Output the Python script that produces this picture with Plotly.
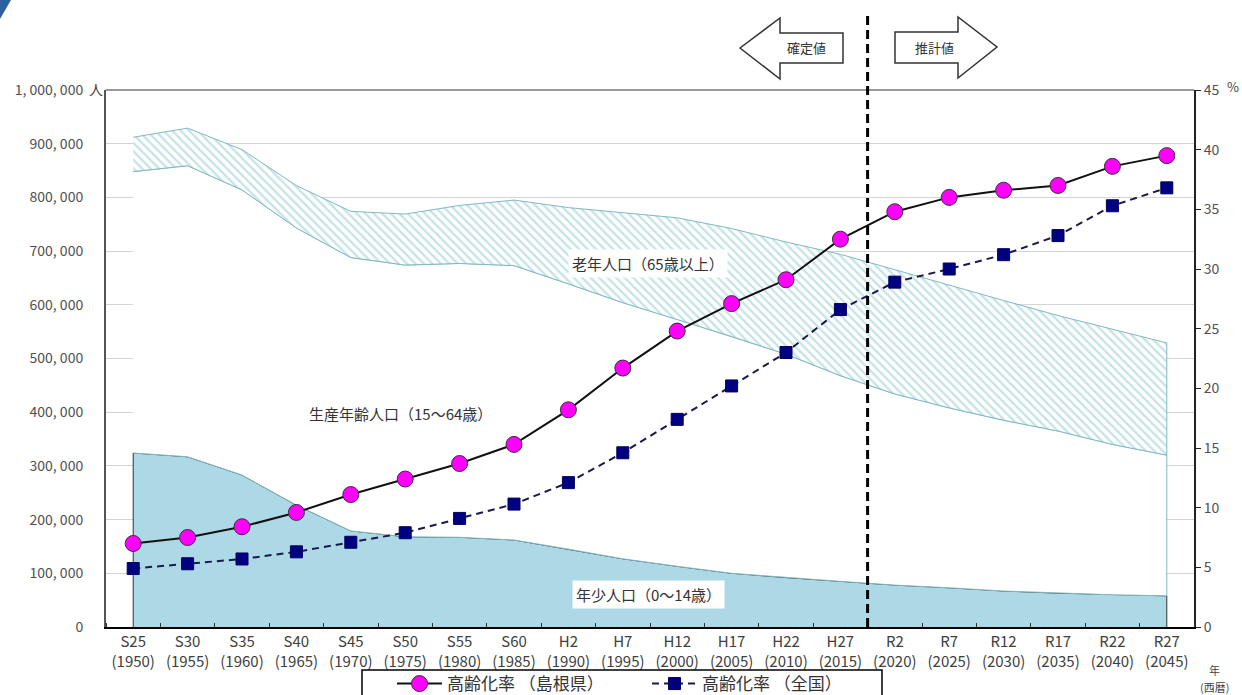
import plotly.graph_objects as go

# ---------------- data ----------------
era_labels = ["S25", "S30", "S35", "S40", "S45", "S50", "S55", "S60", "H2", "H7",
              "H12", "H17", "H22", "H27", "R2", "R7", "R12", "R17", "R22", "R27"]
years = [1950, 1955, 1960, 1965, 1970, 1975, 1980, 1985, 1990, 1995,
         2000, 2005, 2010, 2015, 2020, 2025, 2030, 2035, 2040, 2045]

# population (persons)
young_pop = [324000, 317000, 283000, 227000, 179000, 168000, 167000, 162000, 145000, 127000,
             113000, 100000, 92000, 85000, 78000, 73000, 67000, 63000, 60000, 58000]
working_pop = [524000, 542000, 531000, 516000, 509000, 506000, 510000, 511000, 494000, 477000,
               460000, 441000, 416000, 383000, 356000, 335000, 318000, 302000, 280000, 262000]
elderly_pop = [64000, 70000, 75000, 79000, 86000, 95000, 108000, 122000, 142000, 167000,
               189000, 201000, 209000, 226000, 231000, 229000, 223000, 215000, 214000, 209000]

# aging rate (%)
rate_shimane = [7.0, 7.5, 8.4, 9.6, 11.1, 12.4, 13.7, 15.3, 18.2, 21.7,
                24.8, 27.1, 29.1, 32.5, 34.8, 36.0, 36.6, 37.0, 38.6, 39.5]
rate_japan = [4.9, 5.3, 5.7, 6.3, 7.1, 7.9, 9.1, 10.3, 12.1, 14.6,
              17.4, 20.2, 23.0, 26.6, 28.9, 30.0, 31.2, 32.8, 35.3, 36.8]

left_ticks = [0, 100000, 200000, 300000, 400000, 500000, 600000, 700000, 800000, 900000, 1000000]
left_tick_text = ["0", "100, 000", "200, 000", "300, 000", "400, 000", "500, 000",
                  "600, 000", "700, 000", "800, 000", "900, 000", "1, 000, 000"]
right_ticks = [0, 5, 10, 15, 20, 25, 30, 35, 40, 45]

# ---------------- derived ----------------
n = len(era_labels)
xs = list(range(n))
cum1 = young_pop
cum2 = [a + b for a, b in zip(young_pop, working_pop)]
cum3 = [a + b for a, b in zip(cum2, elderly_pop)]
tick_text = [f"{e}<br>({y})" for e, y in zip(era_labels, years)]

# layout geometry (pixels)
W, H = 1242, 695
L, R, T, B = 106, 48, 90, 68
PW, PH = W - L - R, H - T - B


def px(x):
    return (x - L) / PW


def py(y):
    return (H - B - y) / PH


JP = "Noto Sans CJK JP"

fig = go.Figure()

# young population area (polygon incl. vertical edges)
fig.add_trace(go.Scatter(
    x=[xs[0]] + xs + [xs[-1]], y=[0] + cum1 + [0],
    fill="toself", fillcolor="#add8e6", mode="lines",
    line=dict(color="#333333", width=1), showlegend=False, hoverinfo="skip"))

# working-age population (white)
fig.add_trace(go.Scatter(
    x=xs + xs[::-1], y=cum2 + cum1[::-1],
    fill="toself", fillcolor="white", mode="lines",
    line=dict(color="#7fb9c2", width=1), showlegend=False, hoverinfo="skip"))

# elderly population (hatched)
fig.add_trace(go.Scatter(
    x=xs + xs[::-1], y=cum3 + cum2[::-1],
    fill="toself", fillcolor="white", mode="lines",
    fillpattern=dict(shape="\\", fgcolor="#8cc8d0", bgcolor="white", size=6, solidity=0.38),
    line=dict(color="#7fb9c2", width=1), showlegend=False, hoverinfo="skip"))

# aging rate lines (right axis)
fig.add_trace(go.Scatter(
    x=xs, y=rate_shimane, yaxis="y2", name="高齢化率 （島根県）",
    mode="lines+markers",
    line=dict(color="#111111", width=2),
    marker=dict(symbol="circle", size=16, color="#ff00ff", line=dict(color="#333333", width=1))))
fig.add_trace(go.Scatter(
    x=xs, y=rate_japan, yaxis="y2", name="高齢化率 （全国）",
    mode="lines+markers",
    line=dict(color="#1a1a4a", width=2, dash="7px,5px"),
    marker=dict(symbol="square", size=12, color="#000080", line=dict(color="#000060", width=1))))

shapes = []
# top border of plot area
shapes.append(dict(type="line", xref="paper", yref="paper", x0=0, x1=1, y0=1, y1=1,
                   line=dict(color="#999999", width=2)))
# dashed separator between actual and projected values
shapes.append(dict(type="line", xref="x", yref="paper", x0=13.5, x1=13.5, y0=0, y1=py(12),
                   line=dict(color="black", width=3, dash="9px,5px")))


def path(points):
    return "M " + " L ".join(f"{px(a):.5f},{py(b):.5f}" for a, b in points) + " Z"


left_arrow = [(740, 48), (780, 18), (780, 33), (843, 33), (843, 63), (780, 63), (780, 79)]
right_arrow = [(895, 32), (958, 32), (958, 17), (997, 47), (958, 78), (958, 63), (895, 63)]
for pts in (left_arrow, right_arrow):
    shapes.append(dict(type="path", xref="paper", yref="paper", path=path(pts),
                       fillcolor="white", line=dict(color="#333333", width=1.5), layer="above"))
# decorative corner
shapes.append(dict(type="path", xref="paper", yref="paper",
                   path=path([(0, 0), (11, 0), (0, 19)]),
                   fillcolor="#2f5f9e", line=dict(width=0), layer="above"))
# legend frame (bottom edge runs off the page as in the reference)
shapes.append(dict(type="rect", xref="paper", yref="paper",
                   x0=px(362), x1=px(882), y0=py(670), y1=py(702),
                   fillcolor="white", line=dict(color="black", width=1.5), layer="above"))


def note(text, x, y, size=13, color="#333333", **kw):
    return dict(text=text, x=px(x), y=py(y), xref="paper", yref="paper", showarrow=False,
                xanchor="center", yanchor="middle",
                font=dict(family=JP, size=size, color=color), **kw)


annotations = [
    note("確定値", 806, 48, size=13),
    note("推計値", 934, 47, size=13),
    note("人", 96, 89, size=14, color="#444444"),
    note("%", 1233, 86, size=13, color="#444444"),
    note("年", 1214, 670, size=11, color="#444444"),
    note("(西暦)", 1214, 687, size=11, color="#444444"),
    note("老年人口（65歳以上）", 648, 263, size=15, bgcolor="white", borderpad=3),
    note("生産年齢人口（15〜64歳）", 400, 413, size=15),
    note("年少人口（0〜14歳）", 648, 594, size=15, bgcolor="white", borderpad=3),
]

fig.update_layout(
    width=W, height=H,
    margin=dict(l=L, r=R, t=T, b=B, autoexpand=False),
    paper_bgcolor="white", plot_bgcolor="white",
    font=dict(family=JP, color="#404040"),
    xaxis=dict(range=[-0.5, n - 0.5], tickvals=xs, ticktext=tick_text, ticks="",
               automargin=False,
               showgrid=False, zeroline=False, showline=True, linecolor="black", linewidth=2,
               tickfont=dict(size=15, color="#404040"),
               minor=dict(tickvals=[i + 0.5 for i in range(-1, n)], ticks="inside",
                          ticklen=4, tickcolor="#333333", showgrid=False)),
    yaxis=dict(range=[0, 1000000], tickvals=left_ticks, ticktext=left_tick_text,
               automargin=False,
               showgrid=True, gridcolor="#d4d4d4", gridwidth=1, zeroline=False,
               showline=True, linecolor="#555555", linewidth=2, ticks="",
               ticklabelstandoff=18, tickfont=dict(size=14, color="#505050")),
    yaxis2=dict(range=[0, 45], tickvals=right_ticks, overlaying="y", side="right",
                automargin=False,
                showgrid=False, zeroline=False, showline=True, linecolor="#222222", linewidth=2,
                ticks="outside", ticklen=5, tickcolor="#222222",
                tickfont=dict(size=14, color="#505050")),
    legend=dict(orientation="h", x=px(392), xanchor="left", y=py(666), yanchor="top",
                borderwidth=0, bgcolor="rgba(0,0,0,0)",
                font=dict(family=JP, size=17, color="#333333"),
                itemwidth=45, entrywidth=195, traceorder="normal"),
    shapes=shapes,
    annotations=annotations,
    showlegend=True,
)

fig.write_html("out.html")
